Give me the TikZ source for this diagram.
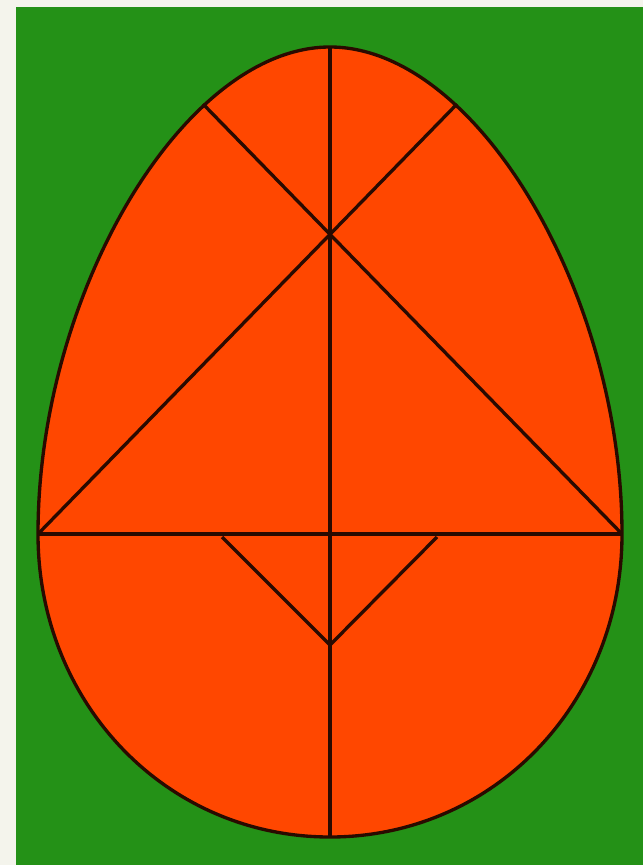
\documentclass[tikz,border=0pt]{standalone}
\usepackage{tikz}
\usetikzlibrary{calc}
\definecolor{paper}{rgb}{0.955, 0.955, 0.925}
\definecolor{leafgreen}{rgb}{0.14, 0.57, 0.09}
\definecolor{eggorange}{rgb}{1.0, 0.28, 0.0}
\definecolor{inkline}{rgb}{0.16, 0.04, 0.0}

\begin{document}
\begin{tikzpicture}[x=0.02cm, y=-0.02cm, eggline/.style={line width=1.9pt, draw=inkline, line join=round}]
        \fill[paper] (0,0) rectangle (643,865);
        \useasboundingbox (0,0) rectangle (643,865);
        \fill[leafgreen] (16,7) rectangle (643,865);

        \coordinate (top) at (330,47);
        \coordinate (bot) at (330,837);
        \coordinate (lft) at (38,534);
        \coordinate (rgt) at (622,534);
        \coordinate (ul) at (203,104);
        \coordinate (ur) at (457,104);
        \coordinate (ctr) at (330,534);
        \coordinate (tl) at (222,537);
        \coordinate (tr) at (437,537);
        \coordinate (tb) at (330,645);

        \fill[eggorange] (lft) .. controls (38,293) and (184,47) .. (top)
              .. controls (476,47) and (622,293) .. (rgt)
              .. controls (622,703) and (494,837) .. (bot)
              .. controls (166,837) and (38,703) .. (lft) -- cycle;

        \draw[eggline] (top) -- (bot);
        \draw[eggline] (ul) -- (rgt);
        \draw[eggline] (ur) -- (lft);
        \draw[eggline] (lft) -- (ctr) -- (rgt);
        \draw[eggline] (tl) -- (tb) -- (tr);

        \draw[eggline] (lft) .. controls (38,293) and (184,47) .. (top)
              .. controls (476,47) and (622,293) .. (rgt)
              .. controls (622,703) and (494,837) .. (bot)
              .. controls (166,837) and (38,703) .. (lft) -- cycle;
    \end{tikzpicture}
\end{document}
